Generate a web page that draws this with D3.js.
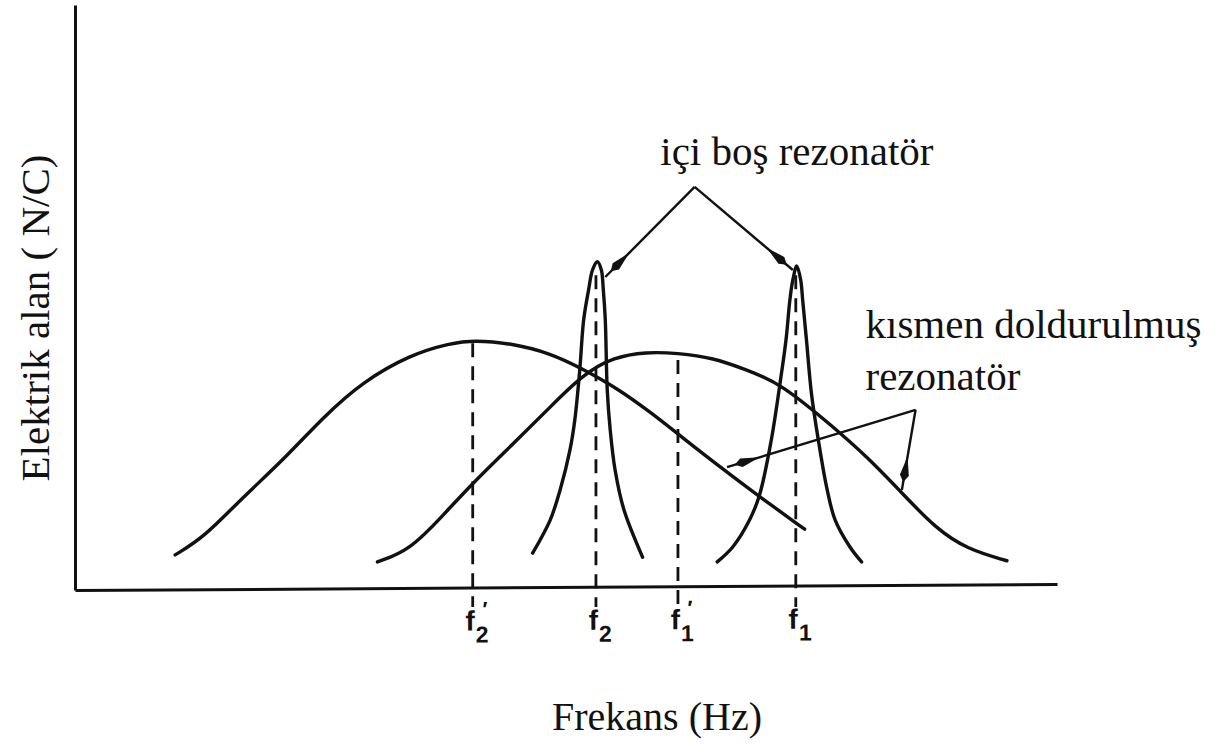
<!DOCTYPE html>
<html>
<head>
<meta charset="utf-8">
<script src="https://cdn.jsdelivr.net/npm/d3@7/dist/d3.min.js"></script>
<style>
  body { margin: 0; background: #fff; }
  svg { display: block; }
  .lbl { font-family: "Liberation Serif", "Times New Roman", serif; fill: #111; }
  .tick text { font-family: "Liberation Sans", Arial, sans-serif; font-weight: bold; fill: #111; }
</style>
</head>
<body>
<svg id="chart" width="1230" height="745"></svg>
<script>
// frequency and field strength are both in arbitrary units (0-100)
// partially filled resonator, mode around f2'
const partialF2 = [[10.2,6.0],[13.2,9.1],[16.8,15.4],[21.2,22.2],[25.3,29.6],[29.3,35.6],[34.1,40.2],
  [38.2,42.2],[40.7,42.7],[44.3,42.2],[48.4,40.5],[51.7,37.8],[55.2,34.5],[58.6,30.4],[61.9,26.0],
  [65.4,21.4],[69.5,16.2],[74.3,10.4]]
// partially filled resonator, mode around f1'
const partialF1 = [[30.8,4.8],[34.1,6.8],[37.5,12.8],[40.5,18.3],[45.0,25.6],[48.4,31.3],[51.7,36.8],
  [54.8,39.8],[58.2,40.7],[61.3,40.5],[65.0,39.7],[68.4,37.6],[71.8,35.4],[77.2,27.9],[80.7,22.7],
  [84.2,16.6],[87.6,10.6],[90.8,7.0],[94.9,5.0]]
// empty resonator, sharp peak at f2
const emptyF2 = [[46.6,6.3],[48.4,12.0],[49.4,17.1],[50.4,23.9],[50.9,29.1],[51.4,37.6],[51.8,46.2],
  [52.3,51.3],[52.7,54.7],[53.2,56.1],[53.6,54.7],[53.8,51.3],[54.0,46.2],[54.2,34.2],[54.5,27.4],
  [55.0,20.5],[55.9,13.7],[57.8,5.6]]
// empty resonator, sharp peak at f1
const emptyF1 = [[65.4,4.8],[67.0,7.4],[68.7,12.0],[69.7,16.2],[70.9,25.6],[71.8,35.4],[72.4,42.7],
  [72.8,49.6],[73.1,53.0],[73.5,55.4],[73.9,53.0],[74.1,49.6],[74.5,42.5],[75.0,33.5],[75.7,25.6],
  [76.6,17.1],[77.4,12.0],[78.9,7.4],[80.1,4.8]]

// marked resonance frequencies and the height where their dashed line starts
const resFreqs = [40.5, 53.05, 61.4, 73.4]
const resTops = [42.2, 53.8, 39.3, 53.8]
const resSubs = ['2', '2', '1', '1']
const resPrime = [true, false, true, false]

const width = 1230
const height = 745
const margin = { top: 5, right: 173, bottom: 155, left: 75 }

const svg = d3.select('#chart')

const x = d3.scaleLinear().domain([0, 100]).range([margin.left, width - margin.right])
const y = d3.scaleLinear().domain([0, 100]).range([height - margin.bottom, margin.top])

// broad modes are smoothed, sharp peaks go through every point
const smoothLine = d3.line()
  .x(d => x(d[0]))
  .y(d => y(d[1]))
  .curve(d3.curveBasis)
const sharpLine = d3.line()
  .x(d => x(d[0]))
  .y(d => y(d[1]))
  .curve(d3.curveCatmullRom.alpha(0.5))

// axes (the scanned x axis leans up a little to the right)
const xAxis = svg.append('g')
  .attr('transform', `translate(0,${y(0)}) rotate(-0.35,${x(0)},0)`)
  .call(d3.axisBottom(x).tickValues(resFreqs).tickSize(0).tickSizeOuter(0).tickFormat(''))
xAxis.select('.domain').attr('stroke', '#111').attr('stroke-width', 3)

svg.append('g')
  .attr('transform', `translate(${x(0)},0)`)
  .call(d3.axisLeft(y).tickValues([]).tickSizeOuter(0))
  .select('.domain').attr('stroke', '#111').attr('stroke-width', 3)

// tick labels f2', f2, f1', f1 (prime sits above the subscript)
xAxis.selectAll('.tick text')
  .attr('y', 0).attr('dy', 0)
  .attr('text-anchor', 'start')
  .attr('font-size', 28)
  .each(function (d, i) {
    const t = d3.select(this)
    t.append('tspan').attr('x', -8).attr('y', 43).text('f')
    t.append('tspan').attr('dx', 1).attr('y', 55).attr('font-size', 23).text(resSubs[i])
    if (resPrime[i]) {
      t.append('tspan').attr('x', 9).attr('y', 29).attr('font-size', 21).text('\u2032')
    }
  })

// dashed resonance markers
svg.append('g')
  .selectAll('line')
  .data(resFreqs)
  .join('line')
  .attr('x1', d => x(d)).attr('x2', d => x(d))
  .attr('y1', (d, i) => y(resTops[i]))
  .attr('y2', y(-2.9))
  .attr('stroke', '#111')
  .attr('stroke-width', 2.8)
  .attr('stroke-dasharray', '14,9')

// response curves
const curves = svg.append('g')
  .attr('fill', 'none')
  .attr('stroke', '#111')
  .attr('stroke-width', 3.4)
  .attr('stroke-linecap', 'round')
  .attr('stroke-linejoin', 'round')
curves.selectAll('path.broad')
  .data([partialF2, partialF1])
  .join('path').attr('class', 'broad')
  .attr('d', smoothLine)
curves.selectAll('path.sharp')
  .data([emptyF2, emptyF1])
  .join('path').attr('class', 'sharp')
  .attr('d', sharpLine)

// thin spindle-shaped arrow heads
svg.append('defs').append('marker')
  .attr('id', 'head')
  .attr('markerUnits', 'userSpaceOnUse')
  .attr('viewBox', '-40 -6 46 12')
  .attr('markerWidth', 46).attr('markerHeight', 12)
  .attr('refX', 0).attr('refY', 0)
  .attr('orient', 'auto')
  .append('path')
  .attr('d', 'M-8,0 L-15,-4.5 L-34,0 L-15,4.5 Z')
  .attr('fill', '#111')

const arrows = [
  { from: [63.1, 68.9], to: [[54.0, 53.5], [73.1, 54.7]] },
  { from: [85.6, 30.8], to: [[66.4, 21.0], [84.2, 17.1]] }
]
arrows.forEach(a => {
  a.to.forEach(t => {
    svg.append('path')
      .attr('d', d3.line()([[x(a.from[0]), y(a.from[1])], [x(t[0]), y(t[1])]]))
      .attr('fill', 'none')
      .attr('stroke', '#111')
      .attr('stroke-width', 2.4)
      .attr('marker-end', 'url(#head)')
  })
})

// labels
svg.append('text').attr('class', 'lbl')
  .attr('x', x(59.6)).attr('y', y(72.6))
  .attr('font-size', 41)
  .text('içi boş rezonatör')

svg.append('text').attr('class', 'lbl')
  .attr('x', x(80.5)).attr('y', y(43.1))
  .attr('font-size', 41)
  .text('kısmen doldurulmuş')

svg.append('text').attr('class', 'lbl')
  .attr('x', x(80.5)).attr('y', y(34.2))
  .attr('font-size', 41)
  .text('rezonatör')

svg.append('text').attr('class', 'lbl')
  .attr('x', (x(0) + x(100)) / 2 + 91).attr('y', height - 15)
  .attr('text-anchor', 'middle')
  .attr('font-size', 40)
  .text('Frekans (Hz)')

svg.append('text').attr('class', 'lbl')
  .attr('transform', `translate(49,318) rotate(-90)`)
  .attr('text-anchor', 'middle')
  .attr('font-size', 41)
  .text('Elektrik alan ( N/C)')
</script>
</body>
</html>
